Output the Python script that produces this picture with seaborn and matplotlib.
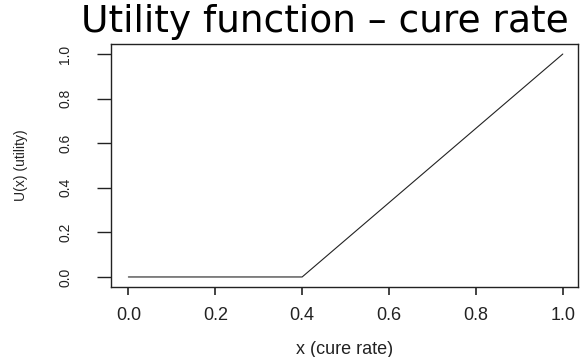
import matplotlib
matplotlib.use("Agg")
import matplotlib.pyplot as plt
import seaborn as sns
import pandas as pd

# Piecewise-linear utility of the cure rate
cure_rate = [0.0, 0.4, 1.0]
utility = [0.0, 0.0, 1.0]
x_ticks = [0.0, 0.2, 0.4, 0.6, 0.8, 1.0]
y_ticks = [0.0, 0.2, 0.4, 0.6, 0.8, 1.0]

title = "Utility function \u2013 cure rate"
x_label = "x (cure rate)"
y_label = "U(x) (utility)"

sns.set_style("white")
plt.rcParams["font.family"] = ["Liberation Sans", "DejaVu Sans"]

df = pd.DataFrame({"x": cure_rate, "u": utility})

fig = plt.figure(figsize=(5.8, 3.57), dpi=100)
ax = fig.add_axes([111 / 580, 1 - 287 / 357, (578 - 111) / 580, (287 - 44) / 357])

sns.lineplot(data=df, x="x", y="u", ax=ax, color="#222222", linewidth=0.8)

ax.set_xlim(-0.04, 1.035)
ax.set_ylim(-0.045, 1.045)
ax.set_xticks(x_ticks)
ax.set_yticks(y_ticks)
ax.set_xticklabels([f"{v:.1f}" for v in x_ticks], fontsize=13, color="#222222")
ax.set_yticklabels([f"{v:.1f}" for v in y_ticks], fontsize=10, rotation=90,
                   va="center", color="#222222")

ax.tick_params(axis="x", direction="out", length=5.5, width=1.2, pad=9,
               bottom=True, color="#222222")
ax.tick_params(axis="y", direction="out", length=10, width=1.0, pad=18,
               left=True, color="#222222")

for s in ax.spines.values():
    s.set_visible(True)
    s.set_color("#222222")
    s.set_linewidth(1.0)

ax.set_xlabel(x_label, fontsize=13, color="#222222", labelpad=12)
ax.set_ylabel(y_label, fontsize=10, color="#222222", labelpad=22)

fig.text(325 / 580, 1 - 22 / 357, title, family=["DejaVu Sans"], fontsize=27,
         ha="center", va="center", color="black")

fig.savefig("out.png", dpi=100)
